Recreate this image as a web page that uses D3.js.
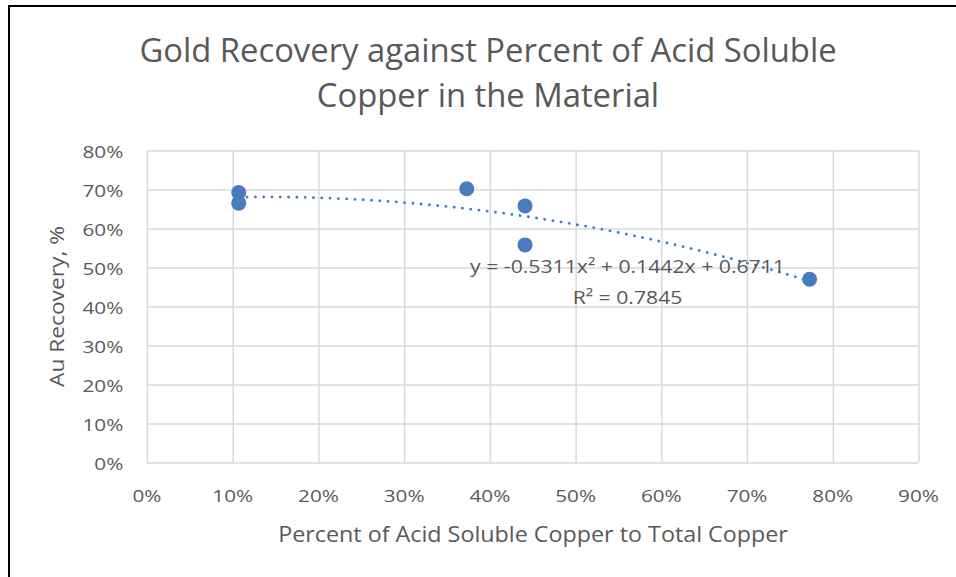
<!DOCTYPE html>
<html>
<head>
<meta charset="utf-8">
<script src="https://cdn.jsdelivr.net/npm/d3@7"></script>
<style>
  html, body { margin: 0; padding: 0; background: #fff; }
  svg { display: block; }
  text { font-family: "Open Sans", "Noto Sans", sans-serif; fill: #595959; }
</style>
</head>
<body>
<svg id="chart" width="956" height="577"></svg>
<script>
// Acid soluble copper fraction vs. gold recovery
const acidSolubleCu = [0.107, 0.107, 0.373, 0.441, 0.441, 0.773];
const auRecovery    = [0.692, 0.665, 0.702, 0.658, 0.558, 0.470];
// Second-order polynomial trendline coefficients (a x^2 + b x + c)
const trendCoef = [-0.5311, 0.1442, 0.6711];
const trendLabel = ["y = -0.5311x² + 0.1442x + 0.6711", "R² = 0.7845"];
const xTicks = [0, 0.1, 0.2, 0.3, 0.4, 0.5, 0.6, 0.7, 0.8, 0.9];
const yTicks = [0, 0.1, 0.2, 0.3, 0.4, 0.5, 0.6, 0.7, 0.8];
const titleLines = ["Gold Recovery against Percent of Acid Soluble", "Copper in the Material"];
const xTitle = "Percent of Acid Soluble Copper to Total Copper";
const yTitle = "Au Recovery, %";

const svg = d3.select("#chart");
const blue = "#4a7bbf";
const grid = "#d9d9d9";

// Text helper: anchored label with a horizontal stretch factor
function label(parent, str, px, py, size, sx, rotate = 0, anchor = "middle") {
  return parent.append("text")
    .attr("transform", `translate(${px},${py}) rotate(${rotate}) scale(${sx},1)`)
    .attr("text-anchor", anchor)
    .style("font-size", size + "px")
    .text(str);
}

// Outer frame (left and top edges)
svg.append("path")
  .attr("d", "M9,577 V6 H956")
  .attr("fill", "none").attr("stroke", "#000").attr("stroke-width", 2);

const plot = { left: 147, right: 918.5, top: 150.5, bottom: 462.5 };
const x = d3.scaleLinear().domain([0, 0.9]).range([plot.left, plot.right]);
const y = d3.scaleLinear().domain([0, 0.8]).range([plot.bottom, plot.top]);
const pct = d3.format(".0%");

// Title
titleLines.forEach((t, i) => label(svg, t, 488, 62.3 + i * 44.4, 32.3, 1.015));

// Gridlines via axes
svg.append("g")
  .attr("transform", `translate(0,${plot.bottom})`)
  .call(d3.axisBottom(x).tickValues(xTicks).tickSize(-(plot.bottom - plot.top)).tickFormat(""))
  .call(g => g.select(".domain").remove())
  .call(g => g.selectAll("line").attr("stroke", grid).attr("stroke-width", 1.5));
svg.append("g")
  .attr("transform", `translate(${plot.left},0)`)
  .call(d3.axisLeft(y).tickValues(yTicks).tickSize(-(plot.right - plot.left)).tickFormat(""))
  .call(g => g.select(".domain").remove())
  .call(g => g.selectAll("line").attr("stroke", grid).attr("stroke-width", 1.5));

// Tick labels
const xLab = svg.append("g");
xTicks.forEach(t => label(xLab, pct(t), x(t), plot.bottom + 39.8, 17, 1.22));
const yLab = svg.append("g");
yTicks.forEach(t => label(yLab, pct(t), plot.left - 23.7, y(t) + 7.8, 17, 1.22, 0, "end"));

// Axis titles
label(svg, xTitle, 533, 541.8, 21, 1.11);
label(svg, yTitle, 64, 306.5, 19.6, 1.16, -90);

// Trendline over the data range
const [a, b, c] = trendCoef;
const xMin = d3.min(acidSolubleCu), xMax = d3.max(acidSolubleCu);
const trendPts = d3.range(0, 101).map(i => {
  const xv = xMin + (xMax - xMin) * i / 100;
  return [xv, a * xv * xv + b * xv + c];
});
svg.append("path")
  .datum(trendPts)
  .attr("fill", "none")
  .attr("stroke", blue)
  .attr("stroke-width", 2.8)
  .attr("stroke-linecap", "round")
  .attr("stroke-dasharray", "0.1 8.2")
  .attr("d", d3.line().x(d => x(d[0])).y(d => y(d[1])));

// Data points
svg.append("g")
  .selectAll("circle")
  .data(acidSolubleCu.map((d, i) => [d, auRecovery[i]]))
  .join("circle")
  .attr("cx", d => x(d[0]))
  .attr("cy", d => y(d[1]))
  .attr("r", 7.5)
  .attr("fill", blue);

// Trendline equation label
trendLabel.forEach((t, i) => label(svg, t, 627.5, 273.3 + i * 30.7, 18.6, 1.14));
</script>
</body>
</html>
